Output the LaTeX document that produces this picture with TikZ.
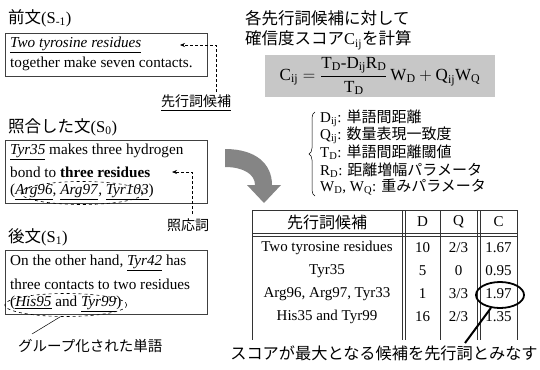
\documentclass[tikz,border=0pt]{standalone}
\usepackage{fontspec}
\usepackage{amsmath}
\setmainfont{Liberation Serif}
\newfontfamily\jp{Noto Sans CJK JP}
\usetikzlibrary{shapes.geometric,decorations.pathreplacing,arrows.meta}
\begin{document}
\begin{tikzpicture}[x=1pt,y=-1pt,
  txt/.style={anchor=west,inner sep=0pt,font=\fontsize{15.2}{17}\selectfont},
  head/.style={anchor=west,inner sep=0pt,font=\fontsize{16.5}{18}\selectfont},
  sbox/.style={draw=black!75,line width=0.8pt,anchor=north west,inner sep=0pt},
  grp/.style={draw,dashed,ellipse,inner sep=0pt,line width=0.6pt},
  dasharr/.style={densely dashed,line width=0.6pt,-{Stealth[length=5pt,width=4pt]}},
  lab/.style={inner sep=0pt,font=\jp\fontsize{14}{16}\selectfont},
  defn/.style={anchor=west,inner sep=0pt,font=\fontsize{15}{17}\selectfont},
  cell/.style={inner sep=0pt,font=\fontsize{15}{17}\selectfont},
  tline/.style={line width=0.5pt,black!80}]
\useasboundingbox (0,0) rectangle (540,369);

% ---------- left column ----------
\node[head] (h1) at (8,18) {{\jp 前文}(S\textsubscript{-1})};
\node[sbox,minimum width=202pt,minimum height=43pt] (b1) at (5,33) {};
\node[txt] (t11) at (10,45) {\underline{\textit{Two tyrosine residues}}};
\node[txt] (t12) at (10,64) {together make seven contacts.};
\node[lab] (l1) at (196,103) {\underline{先行詞候補}};
\coordinate (a1s) at (216,92);
\coordinate (a1e) at (180,45);
\draw[dasharr] (a1s) |- (a1e);

\node[head] (h2) at (8,127) {{\jp 照合した文}(S\textsubscript{0})};
\node[sbox,minimum width=202pt,minimum height=63pt] (b2) at (5,140) {};
\node[txt] (t21) at (10,152) {\underline{\textit{Tyr35}} makes three hydrogen};
\node[txt] (t22) at (10,172) {bond to \textbf{three residues}};
\node[txt] (t23) at (10,192) {(\underline{\textit{Arg96}}, \underline{\textit{Arg97}}, \underline{\textit{Tyr103}})};
\node[grp,minimum width=122pt,minimum height=23pt] (g2) at ([yshift=-1pt]t23.center) {};
\node[lab] (l2) at (188,225) {照応詞};
\coordinate (a2s) at (192,214);
\coordinate (a2e) at (172,172);
\draw[dasharr] (a2s) |- (a2e);

\node[head] (h3) at (8,237) {{\jp 後文}(S\textsubscript{1})};
\node[sbox,minimum width=202pt,minimum height=64pt] (b3) at (5,250) {};
\node[txt] (t31) at (10,263) {On the other hand, \underline{\textit{Tyr42}} has};
\node[txt] (t32) at (10,284) {three contacts to two residues};
\node[txt] (t33) at (10,304) {(\underline{\textit{His95}} and \underline{\textit{Tyr99}})};
\node[grp,minimum width=122pt,minimum height=23pt] (g3) at ([yshift=-1pt]t33.center) {};
\node[lab,anchor=west,font=\jp\fontsize{14.5}{16}\selectfont] (l3) at (18,346) {グループ化された単語};
\coordinate (l3p) at (32,334);
\draw[line width=0.5pt] (g3.-115) -- (l3p);

% ---------- right column ----------
\node[head,font=\jp\fontsize{16.5}{18}\selectfont] (r1) at (245,18) {各先行詞候補に対して};
\node[head,font=\jp\fontsize{16.5}{18}\selectfont] (r2) at (245,40) {確信度スコア{\rmfamily C\textsubscript{ij}}を計算};
\node[fill=black!22,minimum width=230pt,minimum height=42pt,inner sep=0pt] (fbox) at (380,76) {};
\node[inner sep=0pt,font=\fontsize{17}{19}\selectfont] (form) at (380,76)
  {$\text{C}_{\text{ij}} = \dfrac{\text{T}_{\text{D}}\text{-D}_{\text{ij}}\text{R}_{\text{D}}}{\text{T}_{\text{D}}}\,\text{W}_{\text{D}} + \text{Q}_{\text{ij}}\text{W}_{\text{Q}}$};

\coordinate (brt) at (315,112);
\coordinate (brb) at (315,196);
\draw[line width=0.5pt,decorate,decoration={brace,amplitude=6pt}] (brb) -- (brt);
\node[defn] (d1) at (320,118) {D\textsubscript{ij}: {\jp\fontsize{15}{16}\selectfont 単語間距離}};
\node[defn] (d2) at (320,135) {Q\textsubscript{ij}: {\jp\fontsize{15}{16}\selectfont 数量表現一致度}};
\node[defn] (d3) at (320,152) {T\textsubscript{D}: {\jp\fontsize{15}{16}\selectfont 単語間距離閾値}};
\node[defn] (d4) at (320,170) {R\textsubscript{D}: {\jp\fontsize{15}{16}\selectfont 距離増幅パラメータ}};
\node[defn] (d5) at (320,187) {W\textsubscript{D}, W\textsubscript{Q}: {\jp\fontsize{15}{16}\selectfont 重みパラメータ}};

% curved gray arrow
\fill[black!48] (225,149) .. controls (256,149) and (272,164) .. (272,185)
  -- (281,185) -- (264,203) -- (247,185) -- (255,185)
  .. controls (255,174) and (243,167) .. (225,167) -- cycle;

% table
\draw[tline] (252,210) -- (517,210);
\draw[tline] (252,233) -- (517,233);
\draw[tline] (252,236) -- (517,236);
\foreach \xx in {252,402,405,440,477,480,517} {\draw[tline] (\xx,210) -- (\xx,340);}
\node[cell,font=\jp\fontsize{16}{18}\selectfont] (hc1) at (327,222) {先行詞候補};
\node[cell] (hc2) at (422.5,222) {D};
\node[cell] (hc3) at (458.5,222) {Q};
\node[cell] (hc4) at (498.5,222) {C};
\node[cell] (c11) at (327,248) {Two tyrosine residues};
\node[cell] (c12) at (422.5,248) {10};
\node[cell] (c13) at (458.5,248) {2/3};
\node[cell] (c14) at (498.5,248) {1.67};
\node[cell] (c21) at (327,271) {Tyr35};
\node[cell] (c22) at (422.5,271) {5};
\node[cell] (c23) at (458.5,271) {0};
\node[cell] (c24) at (498.5,271) {0.95};
\node[cell] (c31) at (327,294) {Arg96, Arg97, Tyr33};
\node[cell] (c32) at (422.5,294) {1};
\node[cell] (c33) at (458.5,294) {3/3};
\node[cell] (c34) at (498.5,294) {1.97};
\node[cell] (c41) at (327,317) {His35 and Tyr99};
\node[cell] (c42) at (422.5,317) {16};
\node[cell] (c43) at (458.5,317) {2/3};
\node[cell] (c44) at (498.5,317) {1.35};
\node[draw,ellipse,line width=1.8pt,minimum width=48pt,minimum height=26pt,inner sep=0pt] (best) at (500,295) {};
\coordinate (bp) at (465,343);
\draw[line width=2pt] (best.-125) -- (bp);

\node[inner sep=0pt,font=\jp\fontsize{16.2}{18}\selectfont] (concl) at (384,353) {スコアが最大となる候補を先行詞とみなす};
\end{tikzpicture}
\end{document}
